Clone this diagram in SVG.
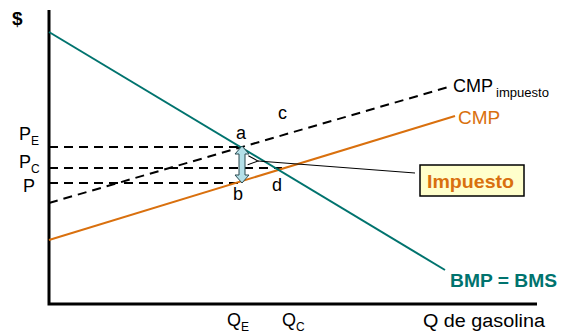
<svg xmlns="http://www.w3.org/2000/svg" width="565" height="334" viewBox="0 0 565 334">
<defs>
<style>
text{font-family:"Liberation Sans",Arial,sans-serif;}
.lbl{font-size:18px;fill:#000;}
.sub{font-size:12px;fill:#000;}
.dash{stroke:#000;stroke-width:2;stroke-dasharray:9,6;fill:none;}
</style>
<marker id="open" markerWidth="12" markerHeight="12" refX="1" refY="6" orient="auto" markerUnits="userSpaceOnUse">
<path d="M11,1.5 L1,6 L11,10.5" fill="none" stroke="#000" stroke-width="1"/>
</marker>
</defs>
<rect width="565" height="334" fill="#fff"/>
<g id="axes">
<path d="M49,10 L49,304 L537,304" fill="none" stroke="#000" stroke-width="3"/>
<text x="12" y="25" class="lbl" style="font-weight:bold;font-size:19px">$</text>
<text x="423" y="327" class="lbl" textLength="122" lengthAdjust="spacingAndGlyphs">Q de gasolina</text>
</g>
<g id="connectors">
<line class="dash" x1="49" y1="147" x2="243" y2="147"/>
<line class="dash" x1="49" y1="168" x2="282" y2="168"/>
<line class="dash" x1="49" y1="183" x2="242" y2="183"/>
<line class="dash" x1="49" y1="203" x2="452" y2="86"/>
<line x1="49" y1="240" x2="455" y2="116" stroke="#d9700e" stroke-width="2"/>
<line x1="49" y1="32" x2="445" y2="270" stroke="#00736e" stroke-width="2"/>
<line x1="415" y1="173" x2="258" y2="161" stroke="#000" stroke-width="1" marker-end="url(#open)"/>
</g>
<g id="arrow">
<path d="M242,146 L249,154 L245,154 L245,175 L249,175 L242,183 L235,175 L239,175 L239,154 L235,154 Z" fill="#b4e0e8" stroke="#2a4a50" stroke-width="1"/>
</g>
<g id="labels">
<text x="236" y="139" class="lbl">a</text>
<text x="233" y="200" class="lbl">b</text>
<text x="278" y="119" class="lbl">c</text>
<text x="272" y="191" class="lbl">d</text>
<text x="19" y="140" class="lbl">P</text><text x="31" y="145" class="sub">E</text>
<text x="19" y="168" class="lbl">P</text><text x="31" y="173" class="sub">C</text>
<text x="23" y="192" class="lbl">P</text>
<text x="227" y="326" class="lbl">Q</text><text x="241" y="331" class="sub">E</text>
<text x="282" y="326" class="lbl">Q</text><text x="296" y="331" class="sub">C</text>
</g>
<g id="cmp-impuesto">
<text x="453" y="92" class="lbl">CMP</text><text x="496" y="97" class="sub" textLength="53" lengthAdjust="spacingAndGlyphs">impuesto</text>
</g>
<g id="cmp">
<text x="458" y="124" style="font-size:19px;fill:#d9700e">CMP</text>
</g>
<g id="bmp">
<text x="450" y="287" style="font-size:19px;font-weight:bold;fill:#00736e" textLength="107" lengthAdjust="spacingAndGlyphs">BMP = BMS</text>
</g>
<g id="impuesto">
<rect x="420" y="165" width="104" height="31" fill="#ffffcc" stroke="#000" stroke-width="1.5"/>
<text x="427" y="188" style="font-size:19px;font-weight:bold;fill:#d9700e" textLength="87" lengthAdjust="spacingAndGlyphs">Impuesto</text>
</g>
</svg>
